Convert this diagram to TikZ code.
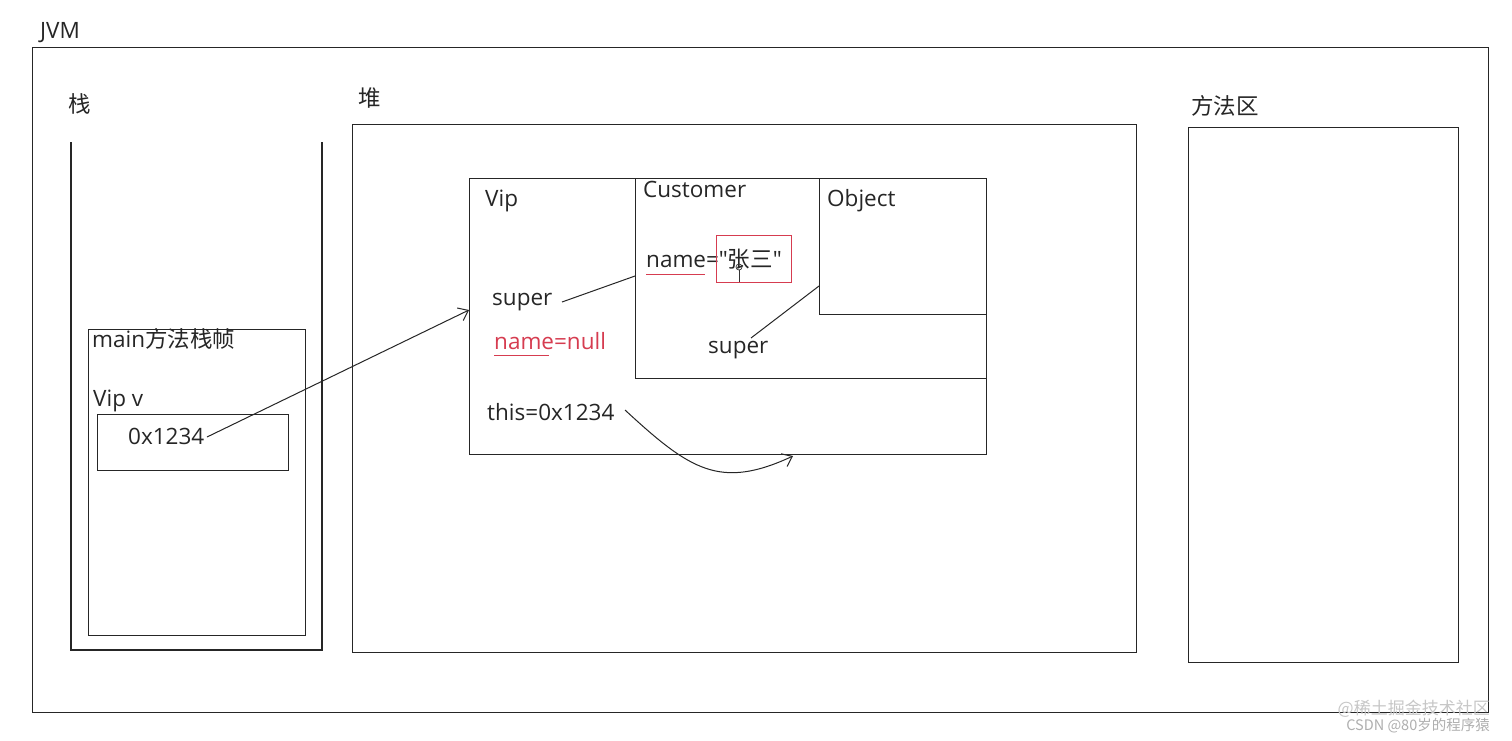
\documentclass[tikz,border=0pt]{standalone}
\usepackage{fontspec}
\setmainfont{Open Sans}[Ligatures=TeXOff]
\newfontfamily\cjk{Noto Sans CJK SC}
\usetikzlibrary{arrows.meta}
\definecolor{redline}{RGB}{214,60,80}
\definecolor{wm}{RGB}{175,175,175}
\begin{document}
\begin{tikzpicture}[x=1pt,y=-1pt,
  box/.style={draw=black!85,line width=1.3pt},
  lbl/.style={anchor=base west,inner sep=0pt,font=\fontsize{22.5}{24}\selectfont,text=black!85},
  redtxt/.style={lbl,text=redline},
  conn/.style={line width=1pt,black!85},
  barb/.style={conn,-{Straight Barb[length=9pt,width=14pt,line width=1pt]}}]
\useasboundingbox[fill=white] (0,0) rectangle (1512,740);
% JVM
\node[box,minimum width=1456pt,minimum height=665pt,anchor=north west,inner sep=0pt] (jvm) at (32,47) {};
\node[lbl] (jvmlbl) at (40,38) {JVM};
% stack
\node[lbl] (stacklbl) at (68,112) {\cjk 栈};
\coordinate (stl) at (71,142);
\coordinate (str) at (322,142);
\draw[box] (stl) -- (71,650) -- (322,650) -- (str);
\node[box,minimum width=217pt,minimum height=306pt,anchor=north west,inner sep=0pt] (frame) at (88,329) {};
\node[lbl] (framelbl) at (92,347) {main{\cjk 方法栈帧}};
\node[lbl] (viplbl) at (93,406) {Vip v};
\node[box,minimum width=191pt,minimum height=56pt,anchor=north west,inner sep=0pt] (ref) at (97,414) {};
\node[lbl] (refval) at (128,444) {0x1234};
% heap
\node[lbl] (heaplbl) at (358,106) {\cjk 堆};
\node[box,minimum width=784pt,minimum height=528pt,anchor=north west,inner sep=0pt] (heap) at (352,124) {};
% method area
\node[lbl] (malbl) at (1191,114) {\cjk 方法区};
\node[box,minimum width=270pt,minimum height=535pt,anchor=north west,inner sep=0pt] (ma) at (1188,127) {};
% objects
\node[box,minimum width=517pt,minimum height=276pt,anchor=north west,inner sep=0pt] (vip) at (469,178) {};
\node[box,minimum width=351pt,minimum height=200pt,anchor=north west,inner sep=0pt] (cust) at (635,178) {};
\node[box,minimum width=167pt,minimum height=136pt,anchor=north west,inner sep=0pt] (obj) at (819,178) {};
\node[lbl] (vipname) at (485,206) {Vip};
\node[lbl] (custname) at (643,197) {Customer};
\node[lbl] (objname) at (827,206) {Object};
\node[lbl] (super1) at (492,305) {super};
\node[redtxt] (null) at (494,349) {name=null};
\draw[redline,line width=1pt] (494,355) -- (549,355);
\node[lbl] (this) at (487,420) {this=0x1234};
\node[lbl] (cname) at (646,267) {name="{\cjk 张三}"};
\draw[redline,line width=1pt] (646,274) -- (705,274);
\node[draw=redline,line width=1pt,minimum width=75pt,minimum height=47pt,anchor=north west,inner sep=0pt] (zs) at (716,235) {};
\node[draw=black!80,circle,line width=0.7pt,minimum size=6pt,inner sep=0pt] (cur) at (739,267) {};
\draw[black!80,line width=0.8pt] (cur.south) -- (739,282);
\node[lbl] (super2) at (708,353) {super};
% connectors
\coordinate (s1e) at (562,302);
\coordinate (c1) at (635,276);
\draw[conn] (s1e) -- (c1);
\coordinate (s2e) at (751,338);
\coordinate (o1) at (819,286);
\draw[conn] (s2e) -- (o1);
\coordinate (refe) at (207,437);
\coordinate (vipin) at (469,310);
\draw[barb] (refe) -- (vipin);
\coordinate (thise) at (625,410);
\coordinate (thist) at (793,456);
\draw[barb] (thise) .. controls (690,470) and (720,490) .. (thist);
% watermark
\node[anchor=base east,inner sep=0pt,font=\cjk\fontsize{17}{18}\selectfont,text=wm!70] (wm1) at (1490,714) {@稀土掘金技术社区};
\node[anchor=base east,inner sep=0pt,font=\cjk\fontsize{14.5}{15}\selectfont,text=wm] (wm2) at (1490,730) {CSDN @80岁的程序猿};
\end{tikzpicture}
\end{document}
